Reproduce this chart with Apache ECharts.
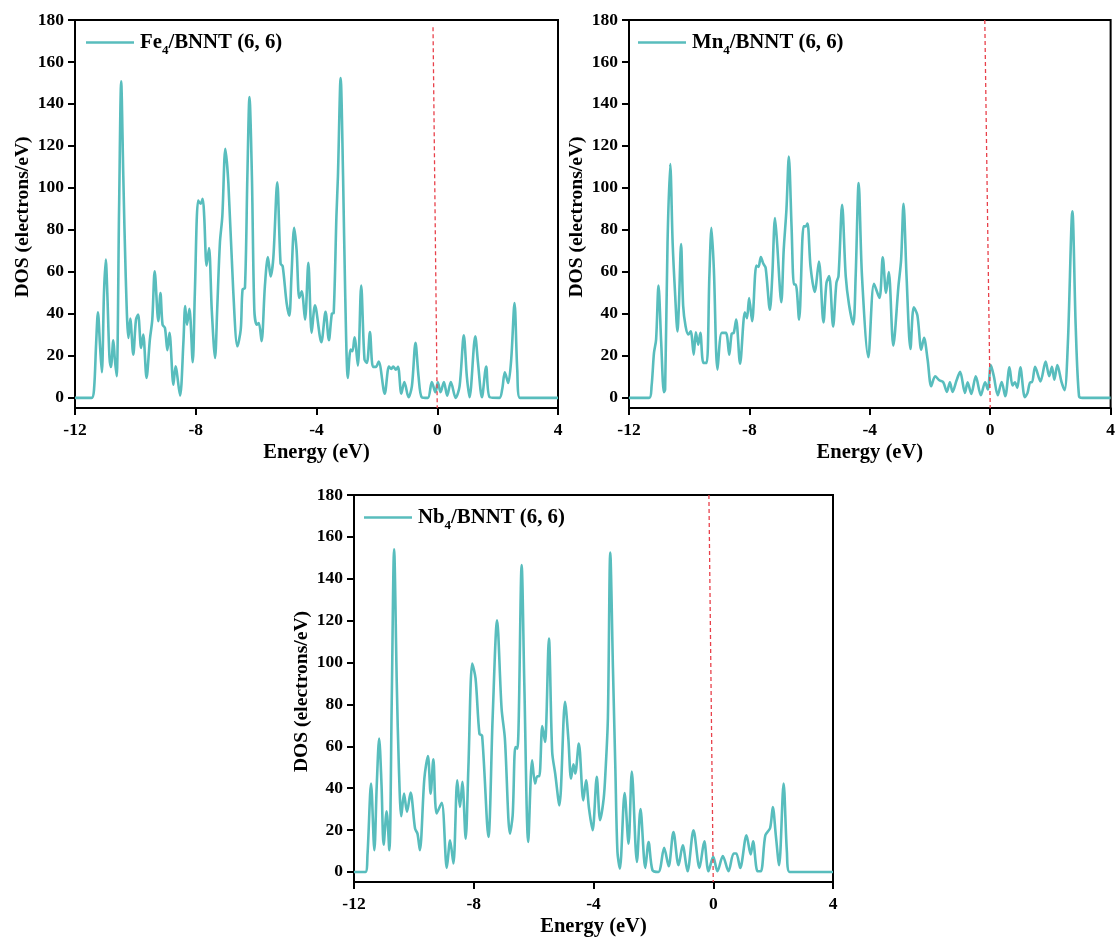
<!DOCTYPE html>
<html>
<head>
<meta charset="utf-8">
<title>DOS</title>
<script src="https://cdn.jsdelivr.net/npm/echarts@6/dist/echarts.min.js"></script>
<style>
html, body { margin: 0; padding: 0; background: #fff; }
#main { width: 1118px; height: 938px; }
</style>
</head>
<body>
<div id="main"></div>
<script>
'use strict';
// values: [energy, dos]
var feDos = [[-12,0],[-11.45,0],[-11.37,4],[-11.30,26],[-11.24,40.8],[-11.17,24.6],[-11.11,12.2],[-11.04,50],[-10.98,65.9],[-10.93,50],[-10.86,19.8],[-10.81,14.8],[-10.73,27.5],[-10.68,18.3],[-10.62,10.3],[-10.54,89.7],[-10.47,150.8],[-10.40,105.6],[-10.32,58],[-10.23,28.6],[-10.17,37.8],[-10.07,20.6],[-9.98,37.3],[-9.91,39.7],[-9.81,23.8],[-9.74,30.2],[-9.63,9.5],[-9.52,27.8],[-9.44,37.3],[-9.36,60.3],[-9.24,36.5],[-9.17,50],[-9.10,34.9],[-9.02,33.3],[-8.94,22.7],[-8.87,31],[-8.74,6.3],[-8.67,15.1],[-8.52,1.1],[-8.41,26.2],[-8.35,43.7],[-8.29,34.9],[-8.21,42.5],[-8.10,17],[-8.03,50],[-7.92,94],[-7.84,92.5],[-7.77,94.8],[-7.72,86.5],[-7.64,63],[-7.56,71.4],[-7.47,42],[-7.36,19],[-7.29,42],[-7.20,73.8],[-7.12,86.5],[-7.02,118.6],[-6.92,102.4],[-6.76,51.6],[-6.62,24.6],[-6.51,32.5],[-6.45,51.6],[-6.37,52.4],[-6.29,105.6],[-6.22,143.3],[-6.14,105.6],[-6.06,42],[-5.98,34.9],[-5.91,35.7],[-5.82,27],[-5.71,53.2],[-5.61,67.1],[-5.52,57.9],[-5.43,66.7],[-5.30,102.7],[-5.19,64],[-5.12,62.7],[-4.99,45.2],[-4.90,39.2],[-4.83,57.9],[-4.74,81],[-4.66,70.6],[-4.57,47.6],[-4.49,50.8],[-4.38,37.3],[-4.27,64.3],[-4.16,31],[-4.05,44.1],[-3.84,26.5],[-3.70,41],[-3.59,27.5],[-3.49,40.2],[-3.43,40.5],[-3.34,86.5],[-3.29,105.6],[-3.20,152.4],[-3.12,105.6],[-3.05,50],[-2.96,9.5],[-2.87,23],[-2.81,22.2],[-2.74,28.9],[-2.63,15.4],[-2.52,53.5],[-2.41,18.3],[-2.33,16.7],[-2.23,31.4],[-2.13,14.8],[-2.03,14.8],[-1.94,17.3],[-1.74,2],[-1.60,15],[-1.52,13.8],[-1.46,15],[-1.37,13.5],[-1.30,14.8],[-1.19,2],[-1.09,7.6],[-0.95,0.3],[-0.84,5.6],[-0.72,26.2],[-0.62,10.3],[-0.51,0.3],[-0.31,0],[-0.18,7.6],[-0.06,2.7],[0.02,7.5],[0.11,2.7],[0.22,7.6],[0.33,1.1],[0.45,7.6],[0.61,0],[0.74,5.6],[0.88,29.8],[0.98,10.3],[1.07,0.3],[1.26,29.4],[1.35,16.7],[1.48,0.3],[1.62,15],[1.74,0.3],[2.06,0],[2.15,4],[2.24,12.2],[2.35,7.1],[2.45,18.3],[2.56,45.2],[2.65,13.5],[2.74,0],[4,0]];

var mnDos = [[-12,0],[-11.33,0],[-11.25,5.6],[-11.17,21.4],[-11.10,27.8],[-11.02,53.5],[-10.93,26.2],[-10.84,2.7],[-10.80,4],[-10.72,73.8],[-10.63,111.4],[-10.55,73.8],[-10.47,50],[-10.39,31.7],[-10.34,45],[-10.27,73.3],[-10.20,43.7],[-10.12,34.1],[-10.03,30.2],[-9.95,31.7],[-9.85,20.6],[-9.78,31.3],[-9.70,25.4],[-9.63,31],[-9.53,16.7],[-9.42,16.7],[-9.33,57.9],[-9.26,81],[-9.18,61],[-9.06,13.5],[-8.92,31],[-8.78,31],[-8.67,20.6],[-8.59,30.6],[-8.52,31],[-8.44,37.3],[-8.31,16.3],[-8.15,40.8],[-8.08,38],[-8.01,47.6],[-7.91,36.5],[-7.77,63],[-7.70,62.4],[-7.62,67.1],[-7.54,64],[-7.46,61.9],[-7.32,42],[-7.24,58],[-7.15,85.7],[-7.08,73.8],[-6.94,45.6],[-6.86,70.6],[-6.77,89.7],[-6.69,115],[-6.60,81.7],[-6.52,54],[-6.46,54],[-6.35,37.3],[-6.20,81.7],[-6.13,81.7],[-6.07,83],[-5.97,62.7],[-5.83,50.5],[-5.69,65],[-5.54,36],[-5.44,54.8],[-5.35,58],[-5.22,34],[-5.11,54.8],[-5.04,58],[-4.92,92],[-4.80,58],[-4.69,44.4],[-4.55,35],[-4.47,58],[-4.37,102.4],[-4.26,58],[-4.05,19.4],[-3.86,54.4],[-3.68,47.6],[-3.57,67],[-3.46,50],[-3.37,60],[-3.22,24.9],[-3.05,53],[-2.96,65.9],[-2.88,92.5],[-2.78,58],[-2.65,23.3],[-2.54,43.2],[-2.42,39.4],[-2.29,23],[-2.20,28.6],[-2.08,18.3],[-1.96,5.6],[-1.83,10.3],[-1.69,8.4],[-1.56,7.5],[-1.44,2.9],[-1.34,7.5],[-1.25,2.9],[-1.12,8.3],[-1.0,12.4],[-0.84,2.4],[-0.75,7.5],[-0.63,1.9],[-0.48,10.3],[-0.31,1.3],[-0.17,7.5],[-0.08,4],[0.02,15.6],[0.12,10.3],[0.25,1.3],[0.38,7.6],[0.50,0.8],[0.64,14.6],[0.74,5.9],[0.82,7.5],[0.90,4.8],[1.0,14.6],[1.15,0.3],[1.24,2.4],[1.33,7.5],[1.39,7.5],[1.49,14.8],[1.67,7.9],[1.84,17.3],[1.96,10.3],[2.05,14.8],[2.13,8.7],[2.23,15.6],[2.37,7.5],[2.47,3.7],[2.58,26.2],[2.73,88.9],[2.84,34],[2.95,0.8],[3.06,0],[4,0]];

var nbDos = [[-12,0],[-11.62,0],[-11.55,8],[-11.43,42.2],[-11.32,10.4],[-11.24,41.4],[-11.16,63.7],[-11.08,41.4],[-11.01,13],[-10.91,29],[-10.82,10.4],[-10.74,81.2],[-10.66,154.1],[-10.57,89.2],[-10.50,49.4],[-10.42,26.6],[-10.33,37.4],[-10.23,28.7],[-10.11,37.9],[-9.96,20.7],[-9.88,18.3],[-9.80,10.4],[-9.65,44.6],[-9.53,55.3],[-9.44,37.4],[-9.35,53.8],[-9.24,27.9],[-9.07,33],[-8.90,1.9],[-8.79,15.1],[-8.68,4],[-8.55,43.8],[-8.46,31],[-8.38,43],[-8.27,15.9],[-8.18,49.4],[-8.05,99.5],[-7.94,92.4],[-7.81,66],[-7.72,65],[-7.51,16.7],[-7.37,73.2],[-7.22,120.2],[-7.07,78],[-6.96,63.7],[-6.79,18.3],[-6.70,27],[-6.61,59.7],[-6.54,58.9],[-6.40,146.5],[-6.31,89.2],[-6.18,14.3],[-6.05,53.3],[-5.95,42.2],[-5.88,45.7],[-5.81,45.7],[-5.71,69.7],[-5.62,62.1],[-5.49,111.5],[-5.38,57.3],[-5.28,47],[-5.14,31.8],[-4.95,81.2],[-4.84,63.7],[-4.75,44.6],[-4.67,51.4],[-4.61,47],[-4.49,61.3],[-4.34,34.2],[-4.25,43.8],[-4.15,30.3],[-4.03,19.9],[-3.89,45.4],[-3.78,24.7],[-3.66,35],[-3.60,47.8],[-3.52,73.2],[-3.44,152.5],[-3.35,97],[-3.27,49.4],[-3.20,9.6],[-3.12,1.6],[-2.96,37.7],[-2.83,13.5],[-2.72,48],[-2.55,4.8],[-2.43,30],[-2.27,1.9],[-2.16,14.3],[-2.03,0.8],[-1.83,0],[-1.64,11.5],[-1.49,2.7],[-1.33,19.1],[-1.16,3.2],[-1.02,12.7],[-0.86,0.3],[-0.66,19.9],[-0.46,1.9],[-0.30,14.6],[-0.16,0.3],[0,7.2],[0.14,0.3],[0.32,7.6],[0.51,0.3],[0.68,8.8],[0.77,8.8],[0.90,1.9],[1.11,17.5],[1.25,8.3],[1.33,14.6],[1.48,0.3],[1.59,0.3],[1.74,17.5],[1.90,21],[1.99,31],[2.09,17.5],[2.20,3.2],[2.35,42.2],[2.46,9.6],[2.55,0],[4,0]];

// the red fermi guides lean a little in the picture
var feFermi = [[-0.14,176.5],[0,-4.8]];
var mnFermi = [[-0.18,180],[0,-4.8]];
var nbFermi = [[-0.145,180],[0,-4.8]];

var yTicks = [0, 20, 40, 60, 80, 100, 120, 140, 160, 180];

var panels = [
    { name: 'Fe4', label: 'Fe', data: feDos, fermi: feFermi, left: 75, top: 20, width: 483, height: 388, legendLeft: 86, legendTop: 32 },
    { name: 'Mn4', label: 'Mn', data: mnDos, fermi: mnFermi, left: 629, top: 20, width: 482, height: 388, legendLeft: 638, legendTop: 32 },
    { name: 'Nb4', label: 'Nb', data: nbDos, fermi: nbFermi, left: 354, top: 495, width: 479, height: 387, legendLeft: 364, legendTop: 507 }
];

var fontFamily = '"Liberation Serif", serif';
var teal = '#58BDBD';

var option = { animation: false, backgroundColor: '#fff', grid: [], xAxis: [], yAxis: [], legend: [], series: [] };

panels.forEach(function (p, i) {
    option.grid.push({
        left: p.left, top: p.top, width: p.width, height: p.height,
        show: true, borderColor: '#000', borderWidth: 2, containLabel: false
    });
    option.xAxis.push({
        type: 'value', gridIndex: i, min: -12, max: 4, interval: 4,
        name: 'Energy (eV)', nameLocation: 'middle', nameGap: 34,
        nameTextStyle: { fontFamily: fontFamily, fontWeight: 'bold', fontSize: 20.5, color: '#000' },
        axisLine: { onZero: false, lineStyle: { color: '#000', width: 2 } },
        axisTick: { length: 7, lineStyle: { color: '#000', width: 2 } },
        axisLabel: { fontFamily: fontFamily, fontWeight: 'bold', fontSize: 17.5, color: '#000', margin: 13 },
        splitLine: { show: false }
    });
    option.yAxis.push({
        type: 'value', gridIndex: i, min: -4.8, max: 180,
        name: 'DOS (electrons/eV)', nameLocation: 'middle', nameGap: 42,
        nameTextStyle: { fontFamily: fontFamily, fontWeight: 'bold', fontSize: 19.6, color: '#000', padding: [0, 6, 0, 0] },
        axisLine: { onZero: false, lineStyle: { color: '#000', width: 2 } },
        axisTick: { length: 7, customValues: yTicks, lineStyle: { color: '#000', width: 2 } },
        axisLabel: { customValues: yTicks, fontFamily: fontFamily, fontWeight: 'bold', fontSize: 17.5, color: '#000', margin: 11 },
        splitLine: { show: false }
    });
    option.legend.push({
        data: [p.name], left: p.legendLeft, top: p.legendTop, padding: 0,
        itemWidth: 48, itemHeight: 20, itemGap: 0,
        icon: 'path://M0,8.75 L48,8.75 L48,11.25 L0,11.25 Z',
        formatter: function () {
            return '{t|' + p.label + '}{s|4}{t|/BNNT (6, 6)}';
        },
        textStyle: {
            padding: [0, 0, 0, 1],
            rich: {
                t: { fontFamily: fontFamily, fontWeight: 'bold', fontSize: 20.8, color: '#000' },
                s: { fontFamily: fontFamily, fontWeight: 'bold', fontSize: 13, color: '#000', verticalAlign: 'bottom', padding: [16, 0, 0, 0] }
            }
        }
    });
    option.series.push({
        name: p.name, type: 'line', xAxisIndex: i, yAxisIndex: i, data: p.data,
        showSymbol: false, symbol: 'none', smooth: 0.3,
        lineStyle: { color: teal, width: 2.6, join: 'round' }, itemStyle: { color: teal }
    });
    option.series.push({
        name: 'fermi' + i, type: 'line', xAxisIndex: i, yAxisIndex: i, data: p.fermi,
        showSymbol: false, symbol: 'none',
        lineStyle: { color: '#E8404A', width: 1.3, type: [4, 3] }
    });
});

var myChart = echarts.init(document.getElementById('main'), null, { renderer: 'canvas' });
myChart.setOption(option);
</script>
</body>
</html>
